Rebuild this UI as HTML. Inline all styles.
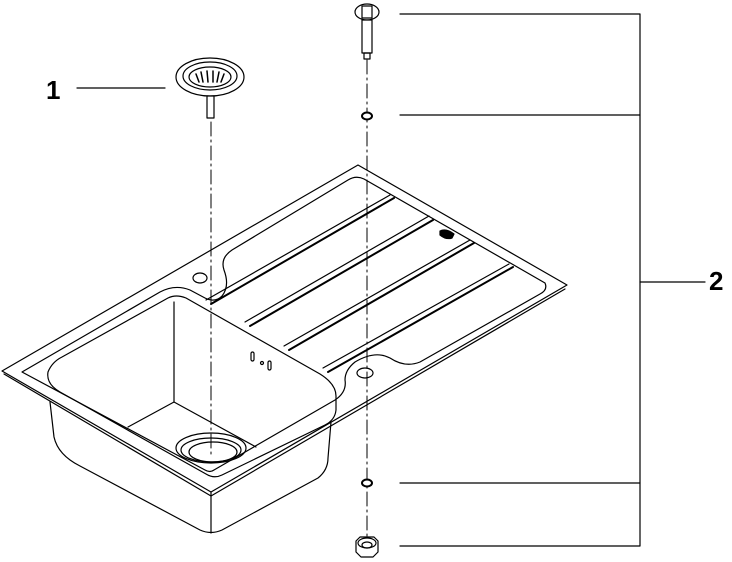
<!DOCTYPE html>
<html><head><meta charset="utf-8"><style>
html,body{margin:0;padding:0;background:#fff;width:732px;height:562px;overflow:hidden}
svg{display:block}
text{font-family:"Liberation Sans",sans-serif;font-weight:bold;font-size:26px;fill:#000}
</style></head><body>
<svg width="732" height="562" viewBox="0 0 732 562" fill="none" stroke="#000" stroke-width="1.2" stroke-linejoin="round" stroke-linecap="round">
<!-- labels -->
<text x="46" y="99" stroke="none">1</text>
<text x="709" y="290" stroke="none">2</text>
<line x1="77" y1="88" x2="165" y2="88"/>
<polyline points="400,14 640,14 640,546 400,546"/>
<line x1="400" y1="115" x2="640" y2="115"/>
<line x1="400" y1="483" x2="640" y2="483"/>
<line x1="640" y1="282" x2="705" y2="282"/>
<!-- rim -->
<polygon points="2,371 358,165 567,285 211,492"/>
<polyline points="4,374 211,496 565,289"/>
<!-- inner rim line -->
<path d="M22,372 L160,292 Q175,284 190,290 L205,298 Q215,303 222,296 Q230,286 224,270 Q220,258 232,250 L348,180 Q356,175 364,179 L545,283 Q548,290 540,294 L420,362 Q405,368 390,358 Q375,350 355,362 Q345,370 345,380 Q347,392 335,400 L214,470 Q210,473 205,470 Z"/>
<!-- bowl -->
<path d="M48,372 Q52,362 62,357 L168,298 Q176,294 186,298 L320,374 Q336,384 336,396 L336,410 Q335,420 325,425 L222,475 Q214,479 206,474 L60,392 Q46,384 48,372 Z"/>
<line x1="174" y1="302" x2="174" y2="402"/>
<line x1="128" y1="427" x2="174" y2="402"/>
<line x1="174" y1="402" x2="256" y2="447"/>
<!-- bowl exterior -->
<path d="M50,402 L54,437 Q58,455 80,466 L200,530 Q211,535 222,530 L318,478 Q328,470 328,458 L331,422"/>
<line x1="211" y1="492" x2="211" y2="533"/>
<!-- drain -->
<ellipse cx="211" cy="448" rx="35" ry="15"/>
<ellipse cx="211" cy="450" rx="30" ry="12"/>
<ellipse cx="213" cy="452" rx="24" ry="10"/>
<!-- overflow -->
<rect x="251" y="352" width="3" height="9" rx="1.5"/>
<rect x="268" y="361" width="3" height="9" rx="1.5"/>
<circle cx="262" cy="363" r="1.5"/>
<!-- ribs -->
<g stroke-width="2">
<line x1="211" y1="304" x2="394" y2="198"/>
<line x1="250" y1="326" x2="433" y2="220"/>
<line x1="289" y1="350" x2="474" y2="243"/>
<line x1="328" y1="372" x2="513" y2="267"/>
</g>
<line x1="206" y1="300" x2="390" y2="195"/>
<line x1="245" y1="322" x2="429" y2="216"/>
<line x1="284" y1="346" x2="470" y2="240"/>
<line x1="323" y1="368" x2="509" y2="264"/>
<!-- holes -->
<ellipse cx="200" cy="278" rx="7" ry="5"/>
<ellipse cx="365" cy="373" rx="8" ry="5"/>
<path d="M440,231 Q446,228 454,234 L452,238 Q446,240 440,235 Z" fill="#000"/>
<!-- dashed centrelines -->
<line x1="211" y1="122" x2="211" y2="455" stroke-dasharray="14,4,2,4" stroke-width="1"/>
<line x1="367" y1="60" x2="367" y2="540" stroke-dasharray="14,4,2,4" stroke-width="1"/>
<!-- strainer -->
<ellipse cx="210" cy="77" rx="34" ry="19" fill="#fff"/>
<ellipse cx="210" cy="76" rx="27" ry="14"/>
<ellipse cx="210" cy="77" rx="21" ry="10"/>
<g stroke-width="1.5"><line x1="196" y1="74" x2="199" y2="82"/><line x1="201" y1="72" x2="203" y2="82"/><line x1="207" y1="71" x2="208" y2="82"/><line x1="213" y1="71" x2="213" y2="82"/><line x1="219" y1="72" x2="217" y2="82"/><line x1="224" y1="74" x2="221" y2="82"/></g>
<rect x="207" y="96" width="7" height="22" fill="#fff"/>
<!-- bolt -->
<ellipse cx="367" cy="12" rx="12" ry="8" fill="#fff"/>
<rect x="362" y="6" width="10" height="12"/>
<rect x="362" y="20" width="10" height="33" fill="#fff"/>
<rect x="364" y="53" width="6" height="6"/>
<!-- washers -->
<ellipse cx="367" cy="116" rx="5" ry="3.5" stroke-width="2" fill="#fff"/>
<ellipse cx="367" cy="483" rx="5" ry="3.5" stroke-width="2" fill="#fff"/>
<!-- nut -->
<path d="M356,541 L360,537 L374,537 L378,541 L378,552 L373,557 L361,557 L356,552 Z" fill="#fff"/>
<ellipse cx="367" cy="543" rx="9" ry="5"/>
<ellipse cx="367" cy="545" rx="5" ry="3"/>
</svg>
</body></html>
